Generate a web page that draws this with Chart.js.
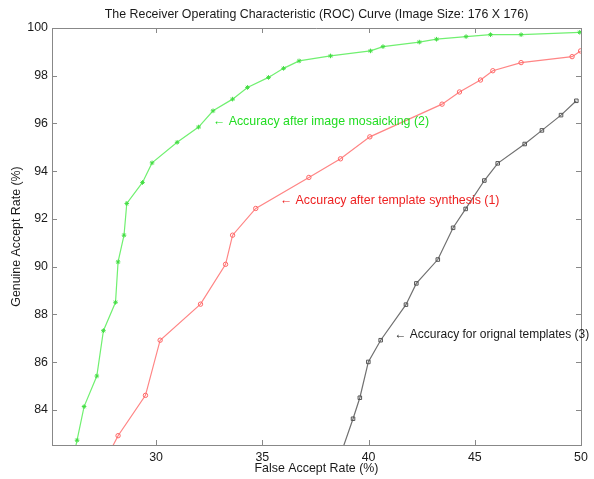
<!DOCTYPE html>
<html>
<head>
<meta charset="utf-8">
<script src="https://cdn.jsdelivr.net/npm/chart.js@4.4.0/dist/chart.umd.min.js"></script>
<style>
html,body{margin:0;padding:0;background:#fff;}
#c{display:block;}
</style>
</head>
<body>
<canvas id="c" width="594" height="479"></canvas>
<script>
// ---- data ----
const titleText = "The Receiver Operating Characteristic (ROC) Curve (Image Size: 176 X 176)";
const xLabel = "False Accept Rate (%)";
const yLabel = "Genuine Accept Rate (%)";
const xTicks = [30, 35, 40, 45, 50];
const yTicks = [84, 86, 88, 90, 92, 94, 96, 98, 100];

// (2) after image mosaicking
const greenX = [26.10, 26.28, 26.61, 27.21, 27.52, 28.09, 28.21, 28.49, 28.62, 29.36, 29.81, 30.99, 32.00, 32.68, 33.60, 34.30, 35.29, 36.00, 36.73, 38.21, 40.09, 40.68, 42.39, 43.20, 44.59, 45.74, 47.18, 49.94];
const greenY = [82.00, 82.73, 84.14, 85.42, 87.32, 88.51, 90.20, 91.32, 92.65, 93.53, 94.35, 95.21, 95.85, 96.53, 97.02, 97.51, 97.93, 98.31, 98.62, 98.83, 99.04, 99.22, 99.41, 99.53, 99.64, 99.72, 99.72, 99.82];
// (1) after template synthesis
const redX = [27.39, 28.21, 29.50, 30.19, 32.09, 33.27, 33.60, 34.69, 37.19, 38.68, 40.06, 43.46, 44.28, 45.27, 45.85, 47.18, 49.58, 49.98];
const redY = [81.50, 82.92, 84.61, 86.92, 88.43, 90.10, 91.32, 92.44, 93.74, 94.52, 95.44, 96.81, 97.32, 97.82, 98.21, 98.55, 98.80, 99.04];
// (3) original templates
const blackX = [38.44, 39.27, 39.59, 39.99, 40.57, 41.76, 42.25, 43.26, 43.98, 44.57, 45.45, 46.08, 47.35, 48.16, 49.06, 49.78];
const blackY = [81.50, 83.63, 84.51, 86.01, 86.92, 88.41, 89.30, 90.30, 91.63, 92.42, 93.61, 94.33, 95.14, 95.71, 96.35, 96.95];

// annotation texts and their anchor points in data units
const noteTexts = [
  "\u2190 Accuracy after image mosaicking (2)",
  "\u2190 Accuracy after template synthesis (1)",
  "\u2190 Accuracy for orignal templates (3)"
];
const noteX = [32.67, 35.82, 41.22];
const noteY = [96.06, 92.75, 87.17];

// ---- styles ----
const noteColors = ["#22dd22", "#ee2222", "#1a1a1a"];
const noteSizes = [12.4, 12.4, 12.0];
const FONT = "'Liberation Sans', Arial, sans-serif";
const FS = 12.4;
const pts = (xs, ys) => xs.map((v, i) => ({x: v, y: ys[i]}));

const decor = {
  id: 'decor',
  afterDraw(chart) {
    const ctx = chart.ctx, a = chart.chartArea;
    const xs = chart.scales.x, ys = chart.scales.y;
    ctx.save();
    // box top/right
    ctx.strokeStyle = '#888';
    ctx.lineWidth = 1;
    ctx.beginPath();
    ctx.moveTo(a.left, a.top + 0.5); ctx.lineTo(a.right + 0.5, a.top + 0.5);
    ctx.lineTo(a.right + 0.5, a.bottom);
    ctx.stroke();
    // inward ticks
    ctx.beginPath();
    xTicks.forEach(v => {
      const p = Math.round(xs.getPixelForValue(v)) + 0.5;
      ctx.moveTo(p, a.bottom); ctx.lineTo(p, a.bottom - 5);
      ctx.moveTo(p, a.top); ctx.lineTo(p, a.top + 5);
    });
    yTicks.forEach(v => {
      const p = Math.round(ys.getPixelForValue(v)) + 0.5;
      ctx.moveTo(a.left, p); ctx.lineTo(a.left + 5, p);
      ctx.moveTo(a.right, p); ctx.lineTo(a.right - 5, p);
    });
    ctx.stroke();
    // title and axis titles
    ctx.fillStyle = '#1a1a1a';
    ctx.font = FS + 'px ' + FONT;
    ctx.textAlign = 'center';
    ctx.textBaseline = 'middle';
    const cx = (a.left + a.right) / 2;
    ctx.fillText(titleText, cx, 15);
    ctx.fillText(xLabel, cx, 469);
    ctx.save();
    ctx.translate(17, (a.top + a.bottom) / 2);
    ctx.rotate(-Math.PI / 2);
    ctx.fillText(yLabel, 0, 0);
    ctx.restore();
    // annotations
    ctx.textAlign = 'left';
    noteTexts.forEach((t, i) => {
      ctx.fillStyle = noteColors[i];
      ctx.font = noteSizes[i] + 'px ' + FONT;
      ctx.fillText(t, xs.getPixelForValue(noteX[i]), ys.getPixelForValue(noteY[i]));
    });
    ctx.restore();
  }
};

new Chart(document.getElementById('c'), {
  type: 'line',
  data: {
    datasets: [
      {data: pts(greenX, greenY), borderColor: '#70f070', backgroundColor: '#70f070', borderWidth: 1.2,
       pointStyle: 'star', pointRadius: 2.3, pointBorderColor: '#44dd44', pointBorderWidth: 1, tension: 0},
      {data: pts(redX, redY), borderColor: '#ff8585', backgroundColor: 'rgba(0,0,0,0)', borderWidth: 1.2,
       pointStyle: 'circle', pointRadius: 2.2, pointBorderColor: '#ff6666', pointBorderWidth: 1, tension: 0},
      {data: pts(blackX, blackY), borderColor: '#707070', backgroundColor: 'rgba(0,0,0,0)', borderWidth: 1.2,
       pointStyle: 'rect', pointRadius: 2.5, pointBorderColor: '#555555', pointBorderWidth: 1, tension: 0}
    ]
  },
  options: {
    responsive: false,
    animation: false,
    devicePixelRatio: 1,
    layout: {padding: {top: 28, right: 13, left: 0, bottom: 0}},
    plugins: {legend: {display: false}, title: {display: false}, tooltip: {enabled: false}},
    scales: {
      x: {
        type: 'linear', min: 25.1, max: 50,
        afterBuildTicks: s => { s.ticks = xTicks.map(v => ({value: v})); },
        afterFit: s => { s.height = 34; },
        grid: {display: true, drawOnChartArea: false, drawTicks: false},
        border: {display: true, color: '#888', width: 1},
        ticks: {font: {family: FONT, size: FS}, color: '#1a1a1a', padding: 5, maxRotation: 0}
      },
      y: {
        type: 'linear', min: 82.53, max: 100,
        afterBuildTicks: s => { s.ticks = yTicks.map(v => ({value: v})); },
        afterFit: s => { s.width = 52; },
        grid: {display: true, drawOnChartArea: false, drawTicks: false},
        border: {display: true, color: '#888', width: 1},
        ticks: {font: {family: FONT, size: FS}, color: '#1a1a1a', padding: 4}
      }
    }
  },
  plugins: [decor]
});
</script>
</body>
</html>
